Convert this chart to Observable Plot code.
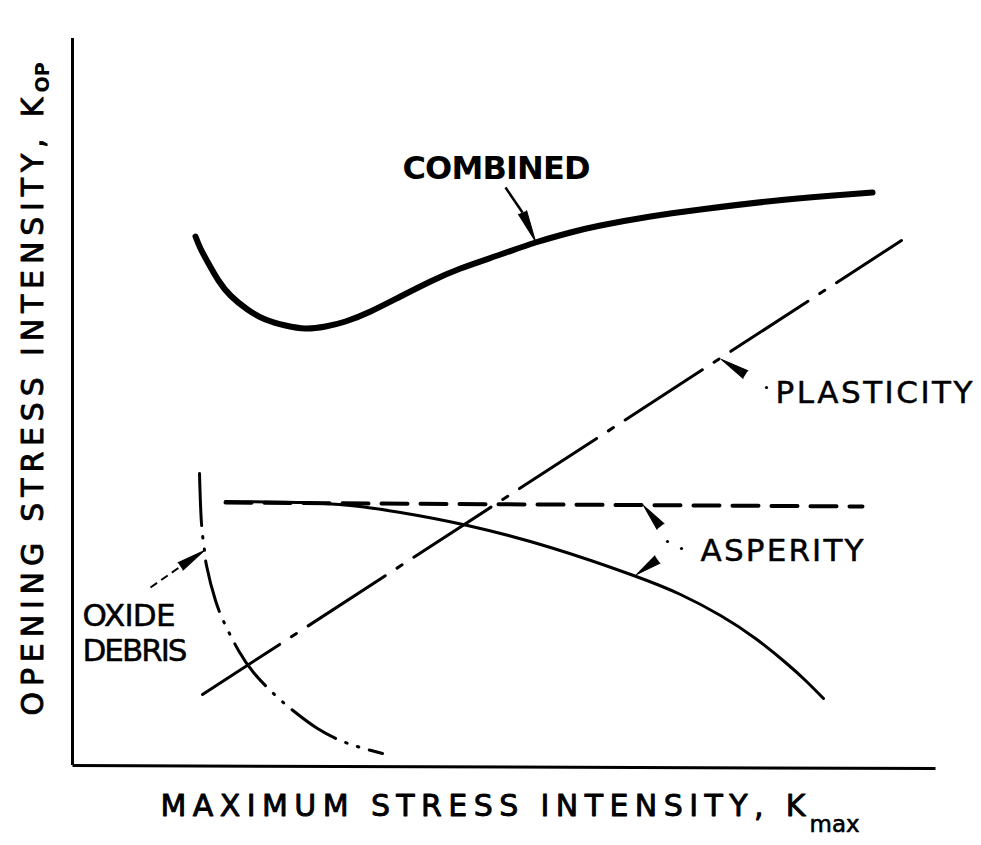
<!DOCTYPE html>
<html><head><meta charset="utf-8">
<script src="https://cdn.jsdelivr.net/npm/d3@7"></script>
<script src="https://cdn.jsdelivr.net/npm/@observablehq/plot@0.6"></script>
<style>body{margin:0;background:#fff}</style>
</head><body><div id="chart"></div>
<script>
// Schematic units (no ticks on the original): x 0..863, y 0..727
const combinedX = [123,128,136,146,158,175,193,213,233,253,273,298,328,358,388,428,463,498,528,578,628,695,761,800];
const combinedY = [529,517,502,485,470,456,446,440,437,439,444,454,469,484,497,511,523,533,540,549,556,564,570,573];

const plasticityX = [130, 829];
const plasticityY = [71, 525];

const asperityDashX = [153, 790];
const asperityDashY = [263, 259];

const asperityCurveX = [153,228,278,328,395,478,561,608,648,683,713,733,751];
const asperityCurveY = [264,263,260,253,240,218,190,171,150,127,103,85,67];

const oxideX = [127,129,132,134,143,154,166,181,203,223,245,268,288,310];
const oxideY = [292,242,215,200,165,138,115,93,70,53,37,25,18,12];

// annotations (schematic units)
const labelText = ["COMBINED","PLASTICITY","ASPERITY","OXIDE","DEBRIS"];
const labelX = [330,703,628,10,10];
const labelY = [587,363,205,140,105];
const labelFit = [188,197,163,93,105];

const pointerTipX  = [463,649,571,564,132];
const pointerTipY  = [524,406,260,191,215];
const pointerBaseX = [450,673,588,585,108];
const pointerBaseY = [553,391,239,206,199];

const xTitle = "MAXIMUM STRESS INTENSITY, K";
const xSub = "max";
const yTitle = "OPENING STRESS INTENSITY, K";
const ySub = "OP";

const pts = (xs, ys) => xs.map((x, i) => ({x, y: ys[i]}));
const combined = pts(combinedX, combinedY);
const plasticity = pts(plasticityX, plasticityY);
const asperityDash = pts(asperityDashX, asperityDashY);
const asperityCurve = pts(asperityCurveX, asperityCurveY);
const oxide = pts(oxideX, oxideY);
const labels = labelText.map((t, i) => ({t, x: labelX[i], y: labelY[i]}));
const fit = {};
labelText.forEach((t, i) => fit[t] = labelFit[i]);
fit[xTitle] = 645; fit[yTitle] = 618;

const wedges = pointerTipX.map((tx, i) => {
  const dx = tx - pointerBaseX[i], dy = pointerTipY[i] - pointerBaseY[i];
  return Plot.vector([{x: pointerBaseX[i], y: pointerBaseY[i]}], {
    x: "x", y: "y", anchor: "start", shape: "spike", r: 4.5,
    length: Math.hypot(dx, dy), rotate: Math.atan2(dx, dy) * 180 / Math.PI,
    fill: "black", stroke: "black", strokeWidth: 1
  });
});

const font = "DejaVu Sans, Verdana, sans-serif";

const chart = Plot.plot({
  width: 981, height: 845,
  marginLeft: 72, marginRight: 46, marginTop: 38, marginBottom: 80,
  x: {domain: [0, 863], axis: null},
  y: {domain: [0, 727], axis: null},
  style: {background: "white", color: "black"},
  marks: [
    // axes
    Plot.ruleX([0], {y1: 0, y2: 727, stroke: "black", strokeWidth: 3}),
    Plot.link([{x1: 0, y1: 0, x2: 863, y2: -3}], {x1: "x1", y1: "y1", x2: "x2", y2: "y2", stroke: "black", strokeWidth: 3}),
    // curves
    Plot.line(combined, {x: "x", y: "y", curve: "natural", stroke: "black", strokeWidth: 6, strokeLinecap: "round"}),
    Plot.line(plasticity, {x: "x", y: "y", stroke: "black", strokeWidth: 3, strokeDasharray: "92,14,6,14", strokeLinecap: "round"}),
    Plot.line(asperityCurve, {x: "x", y: "y", curve: "natural", stroke: "black", strokeWidth: 3, strokeLinecap: "round"}),
    Plot.line(asperityDash, {x: "x", y: "y", stroke: "black", strokeWidth: 4, strokeDasharray: "26,13"}),
    Plot.line(oxide, {x: "x", y: "y", curve: "natural", stroke: "black", strokeWidth: 3, strokeDasharray: "52,11,1.5,11,1.5,11", strokeLinecap: "round"}),
    // pointers
    ...wedges,
    Plot.link([{x1: 433, y1: 578, x2: 450, y2: 553}], {x1: "x1", y1: "y1", x2: "x2", y2: "y2", stroke: "black", strokeWidth: 2.5}),
    Plot.link([{x1: 78, y1: 178, x2: 108, y2: 199}], {x1: "x1", y1: "y1", x2: "x2", y2: "y2", stroke: "black", strokeWidth: 2, strokeDasharray: "8,5"}),
    Plot.dot([{x: 694, y: 378}, {x: 595, y: 224}, {x: 609, y: 217}], {x: "x", y: "y", r: 1.6, fill: "black", stroke: null}),
    // labels
    Plot.text(labels.slice(0, 1), {x: "x", y: "y", text: "t", textAnchor: "start", lineAnchor: "bottom", fontSize: 32, fontWeight: "bold", fontFamily: font, fill: "black"}),
    Plot.text(labels.slice(1), {x: "x", y: "y", text: "t", textAnchor: "start", lineAnchor: "bottom", fontSize: 31, fontFamily: font, fill: "black", stroke: "black", strokeWidth: 0.5}),
    Plot.text([xTitle], {x: 88, y: -50, text: d => d, textAnchor: "start", lineAnchor: "bottom", fontSize: 30, fontFamily: font, fill: "black", stroke: "black", strokeWidth: 0.9}),
    Plot.text([xSub], {x: 737, y: -66, text: d => d, textAnchor: "start", lineAnchor: "bottom", fontSize: 23, fontFamily: font, fill: "black", stroke: "black", strokeWidth: 0.6}),
    Plot.text([yTitle], {x: -30, y: 50, text: d => d, rotate: -90, textAnchor: "start", lineAnchor: "bottom", fontSize: 30, fontFamily: font, fill: "black", stroke: "black", strokeWidth: 0.9}),
    Plot.text([ySub], {x: -24, y: 673, text: d => d, rotate: -90, textAnchor: "start", lineAnchor: "bottom", fontSize: 19, fontWeight: "bold", fontFamily: font, fill: "black"})
  ]
});

d3.select(chart).selectAll("text").each(function() {
  const t = this.textContent;
  if (fit[t]) {
    this.setAttribute("textLength", fit[t]);
    this.setAttribute("lengthAdjust", "spacing");
  }
});

document.getElementById("chart").appendChild(chart);
</script>
</body></html>
